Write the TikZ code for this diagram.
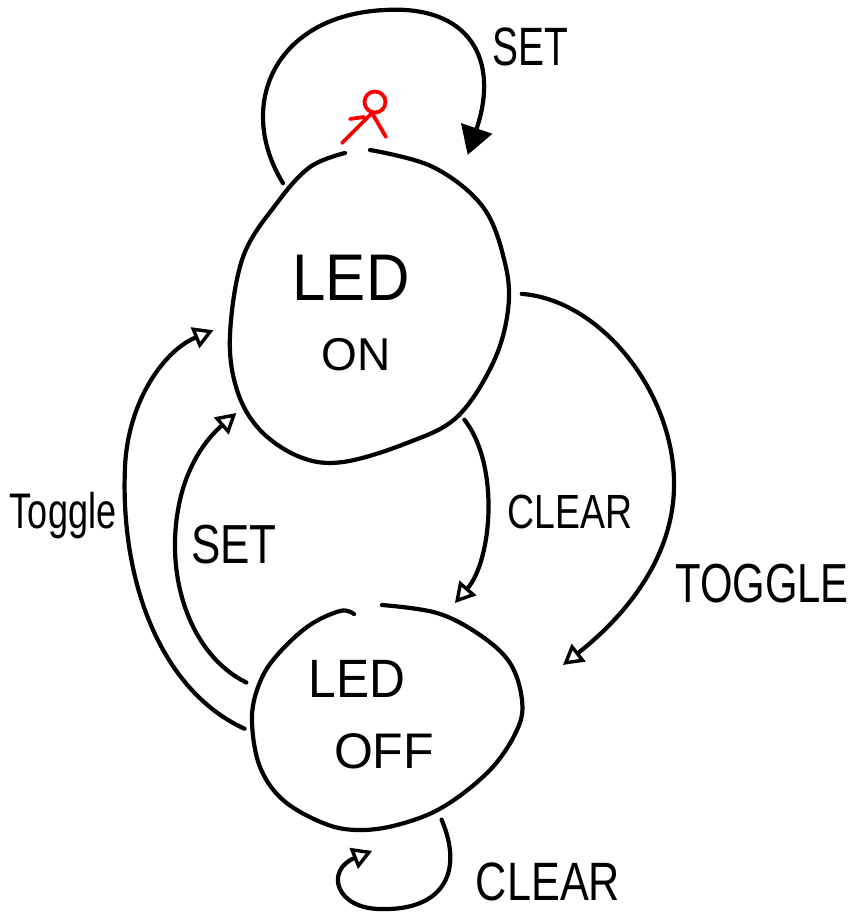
\documentclass[tikz,border=0pt]{standalone}
\usepackage{fontspec}
\setmainfont{Liberation Sans}
\usetikzlibrary{arrows.meta,shapes.geometric}
% handwritten-style label: size, horizontal stretch
\newcommand\hand[2]{\fontsize{#1}{#1}\selectfont\addfontfeatures{FakeStretch=#2}}

\begin{document}
\begin{tikzpicture}[x=1pt,y=-1pt,
  stroke/.style={line width=4.2pt, line cap=round, line join=round},
  harrow/.style={stroke, -{Triangle[open,length=20pt,width=22pt,line width=3.4pt]}},
  sharrow/.style={stroke, -{Triangle[length=28pt,width=32pt]}},
  state/.style={ellipse, inner sep=0pt},
  lbl/.style={anchor=base, inner sep=0pt},
  marker/.style={stroke, red, line width=3.8pt}
]
\useasboundingbox (0,0) rectangle (856,914);
\fill[white] (0,0) rectangle (856,914);

% states
\node[state, minimum width=278pt, minimum height=312pt] (on) at (369,306) {};
\node[state, minimum width=270pt, minimum height=224pt] (off) at (387,717) {};

% hand-drawn outlines of the two states
\draw[stroke] plot[smooth, tension=0.6] coordinates {(370,150) (433,167) (483,207) (505,263) (508,310) (493,363) (457,417) (407,443) (343,462) (300,457) (260,430) (237,390) (230,335) (243,257) (277,203) (310,167) (345,153)};
\draw[stroke] plot[smooth, tension=0.6] coordinates {(382,605) (437,613) (480,635) (510,663) (522,700) (517,730) (490,770) (443,807) (397,825) (357,830) (323,823) (283,800) (260,767) (252,723) (257,690) (273,660) (307,627) (340,611) (354,614)};

% state texts
\node[lbl] (onA) at (351,300) {\hand{66pt}{0.91}LED};
\node[lbl] (onB) at (356,370) {\hand{46pt}{1}ON};
\node[lbl] (offA) at (357,697) {\hand{54pt}{0.92}LED};
\node[lbl] (offB) at (384,768) {\hand{50pt}{1}OFF};

% initial-state mark
\draw[marker] (375,102) circle[radius=10.5pt];
\draw[marker] (372,113) -- (342,143);
\draw[marker] (350,119) -- (364,117);
\draw[marker] (372,113) -- (386,137);

% transitions
\draw[sharrow] (on.125) .. controls (235,105) and (275,15) .. (385,10)
  .. controls (470,5) and (500,60) .. ([xshift=23pt,yshift=20pt]on.60);
\draw[harrow] (on.-50) .. controls (500,465) and (492,560) .. ([yshift=17pt]off.55);
\draw[harrow] ([xshift=14pt]on.5) .. controls (600,300) and (672,390) .. (674,480)
  .. controls (676,560) and (620,620) .. ([xshift=65pt,yshift=-12pt]off.30);
\draw[harrow] ([xshift=-12pt]off.165) .. controls (190,655) and (163,575) .. (180,500)
  .. controls (188,465) and (205,440) .. ([xshift=-11pt,yshift=-31pt]on.212);
\draw[harrow] ([xshift=-8pt]off.185) .. controls (160,690) and (120,580) .. (125,467)
  .. controls (128,400) and (165,350) .. ([xshift=-18pt]on.190);
\draw[harrow] (off.-62) .. controls (465,875) and (440,910) .. (383,909)
  .. controls (335,910) and (325,870) .. ([xshift=-5pt,yshift=-22pt]off.-95);

% transition labels
\node[lbl] (lSetTop) at (530,65) {\hand{54pt}{0.72}SET};
\node[lbl] (lToggleL) at (63,528) {\hand{50pt}{0.72}Toggle};
\node[lbl] (lSetMid) at (234,563) {\hand{55pt}{0.8}SET};
\node[lbl] (lClearMid) at (570,528) {\hand{48pt}{0.78}CLEAR};
\node[lbl] (lToggleR) at (762,602) {\hand{55pt}{0.76}TOGGLE};
\node[lbl] (lClearBot) at (548,900) {\hand{54pt}{0.8}CLEAR};
\end{tikzpicture}
\end{document}
